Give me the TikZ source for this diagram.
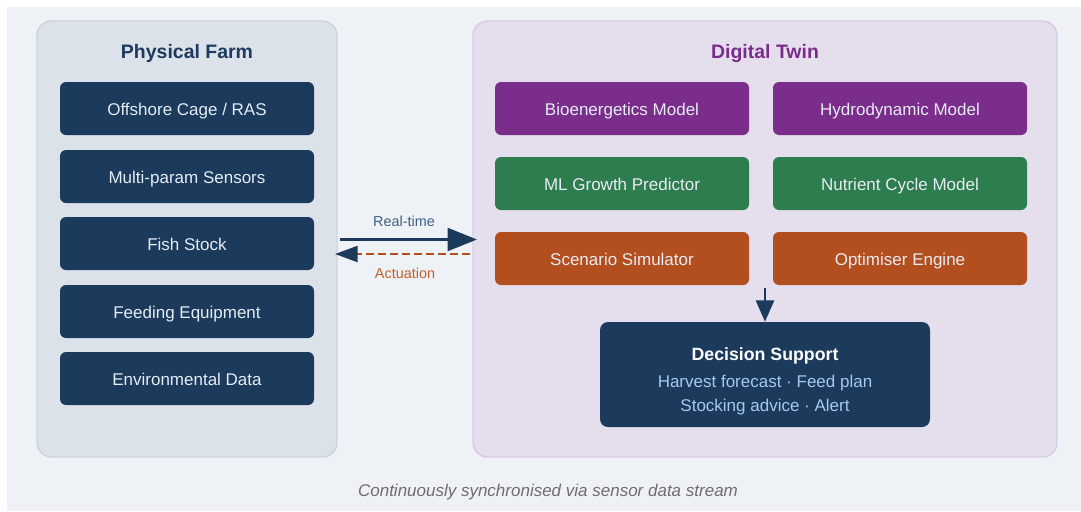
\documentclass[tikz,border=0pt]{standalone}
\usepackage{fontspec}
\setmainfont{Liberation Sans}
\usetikzlibrary{arrows.meta}
\definecolor{bg}{HTML}{EEF2F7}
\definecolor{pfill}{HTML}{DCE2EA}
\definecolor{pline}{HTML}{CAD3DE}
\definecolor{dfill}{HTML}{E5DFED}
\definecolor{dline}{HTML}{D8CAE6}
\definecolor{navy}{HTML}{1B3A5C}
\definecolor{navytitle}{HTML}{1E3A5F}
\definecolor{purp}{HTML}{7B2D8B}
\definecolor{grn}{HTML}{2E7D4F}
\definecolor{orng}{HTML}{B34F1F}
\definecolor{boxtext}{HTML}{E6ECF3}
\definecolor{subtext}{HTML}{A6C8EA}
\definecolor{rtlabel}{HTML}{3F5F85}
\definecolor{aclabel}{HTML}{C0622C}
\definecolor{captext}{HTML}{6E6E6E}
\begin{document}
\begin{tikzpicture}[x=0.75pt,y=-0.75pt,
  panelL/.style={rectangle,rounded corners=11pt,fill=pfill,draw=pline,line width=1.1pt,
    minimum width=225pt,minimum height=327pt,inner sep=0pt},
  panelR/.style={rectangle,rounded corners=11pt,fill=dfill,draw=dline,line width=1.1pt,
    minimum width=438pt,minimum height=327pt,inner sep=0pt},
  txt/.style={text height=1em,text depth=0pt,inner sep=0pt},
  title/.style={txt,font=\fontsize{14.6}{17}\selectfont\bfseries},
  box/.style={rectangle,rounded corners=4.5pt,minimum width=190.5pt,minimum height=39.75pt,
    inner sep=0pt,text=boxtext,text height=1em,text depth=0pt,
    font=\fontsize{12.75}{15}\selectfont},
  nbox/.style={box,fill=navy},
  pbox/.style={box,fill=purp},
  gbox/.style={box,fill=grn},
  obox/.style={box,fill=orng},
  lbl/.style={txt,font=\fontsize{10.8}{13}\selectfont},
]
\useasboundingbox (0,0) rectangle (1081,511);
\fill[bg] (7,7) rectangle (1081,511);

% panels
\node[panelL] (pf) at (187,239) {};
\node[panelR] (dt) at (765,239) {};
\node[title,text=navytitle] (pft) at (187,52) {Physical Farm};
\node[title,text=purp] (dtt) at (765,52) {Digital Twin};

% physical farm boxes
\node[nbox] (p1) at (187,108.5) {Offshore Cage / RAS};
\node[nbox] (p2) at (187,176.5) {Multi-param Sensors};
\node[nbox] (p3) at (187,243.5) {Fish Stock};
\node[nbox] (p4) at (187,311.5) {Feeding Equipment};
\node[nbox] (p5) at (187,378.5) {Environmental Data};

% digital twin boxes
\node[pbox] (bio) at (622,108.5) {Bioenergetics Model};
\node[pbox] (hyd) at (900,108.5) {Hydrodynamic Model};
\node[gbox] (mlg) at (622,183.5) {ML Growth Predictor};
\node[gbox] (nut) at (900,183.5) {Nutrient Cycle Model};
\node[obox] (scn) at (622,258.5) {Scenario Simulator};
\node[obox] (opt) at (900,258.5) {Optimiser Engine};

% decision support
\node[rectangle,rounded corners=6pt,fill=navy,minimum width=247.5pt,minimum height=78.75pt,inner sep=0pt] (ds) at (765,374.5) {};
\node[txt,text=white,font=\fontsize{13.3}{16}\selectfont\bfseries] (dst) at (765,354) {Decision Support};
\node[txt,text=subtext,font=\fontsize{12.75}{15}\selectfont] (ds1) at (765,381) {Harvest forecast · Feed plan};
\node[txt,text=subtext,font=\fontsize{12.75}{15}\selectfont] (ds2) at (765,405) {Stocking advice · Alert};

% down arrow
\coordinate (dstart) at (765,288);
\draw[navy,line width=1.9pt,-{Triangle[length=16pt,width=13.5pt]}] (dstart) -- (ds.north);

% real-time / actuation arrows
\coordinate (rtA) at (340,239.5);
\coordinate (rtB) at (477,239.5);
\coordinate (acA) at (470,254);
\coordinate (acB) at (335,254);
\draw[navy,line width=2.4pt,-{Triangle[length=22pt,width=17pt]}] (rtA) -- (rtB);
\draw[orng,line width=1.7pt,dash pattern=on 6pt off 3pt,-{Triangle[length=17pt,width=12pt,color=navy]}] (acA) -- (acB);
\node[lbl,text=rtlabel] (rtl) at (404,219.5) {Real-time};
\node[lbl,text=aclabel] (acl) at (405,272) {Actuation};

% caption
\node[txt,text=captext,font=\fontsize{12.75}{15}\selectfont\itshape] (cap) at (548,490) {Continuously synchronised via sensor data stream};
\end{tikzpicture}
\end{document}
